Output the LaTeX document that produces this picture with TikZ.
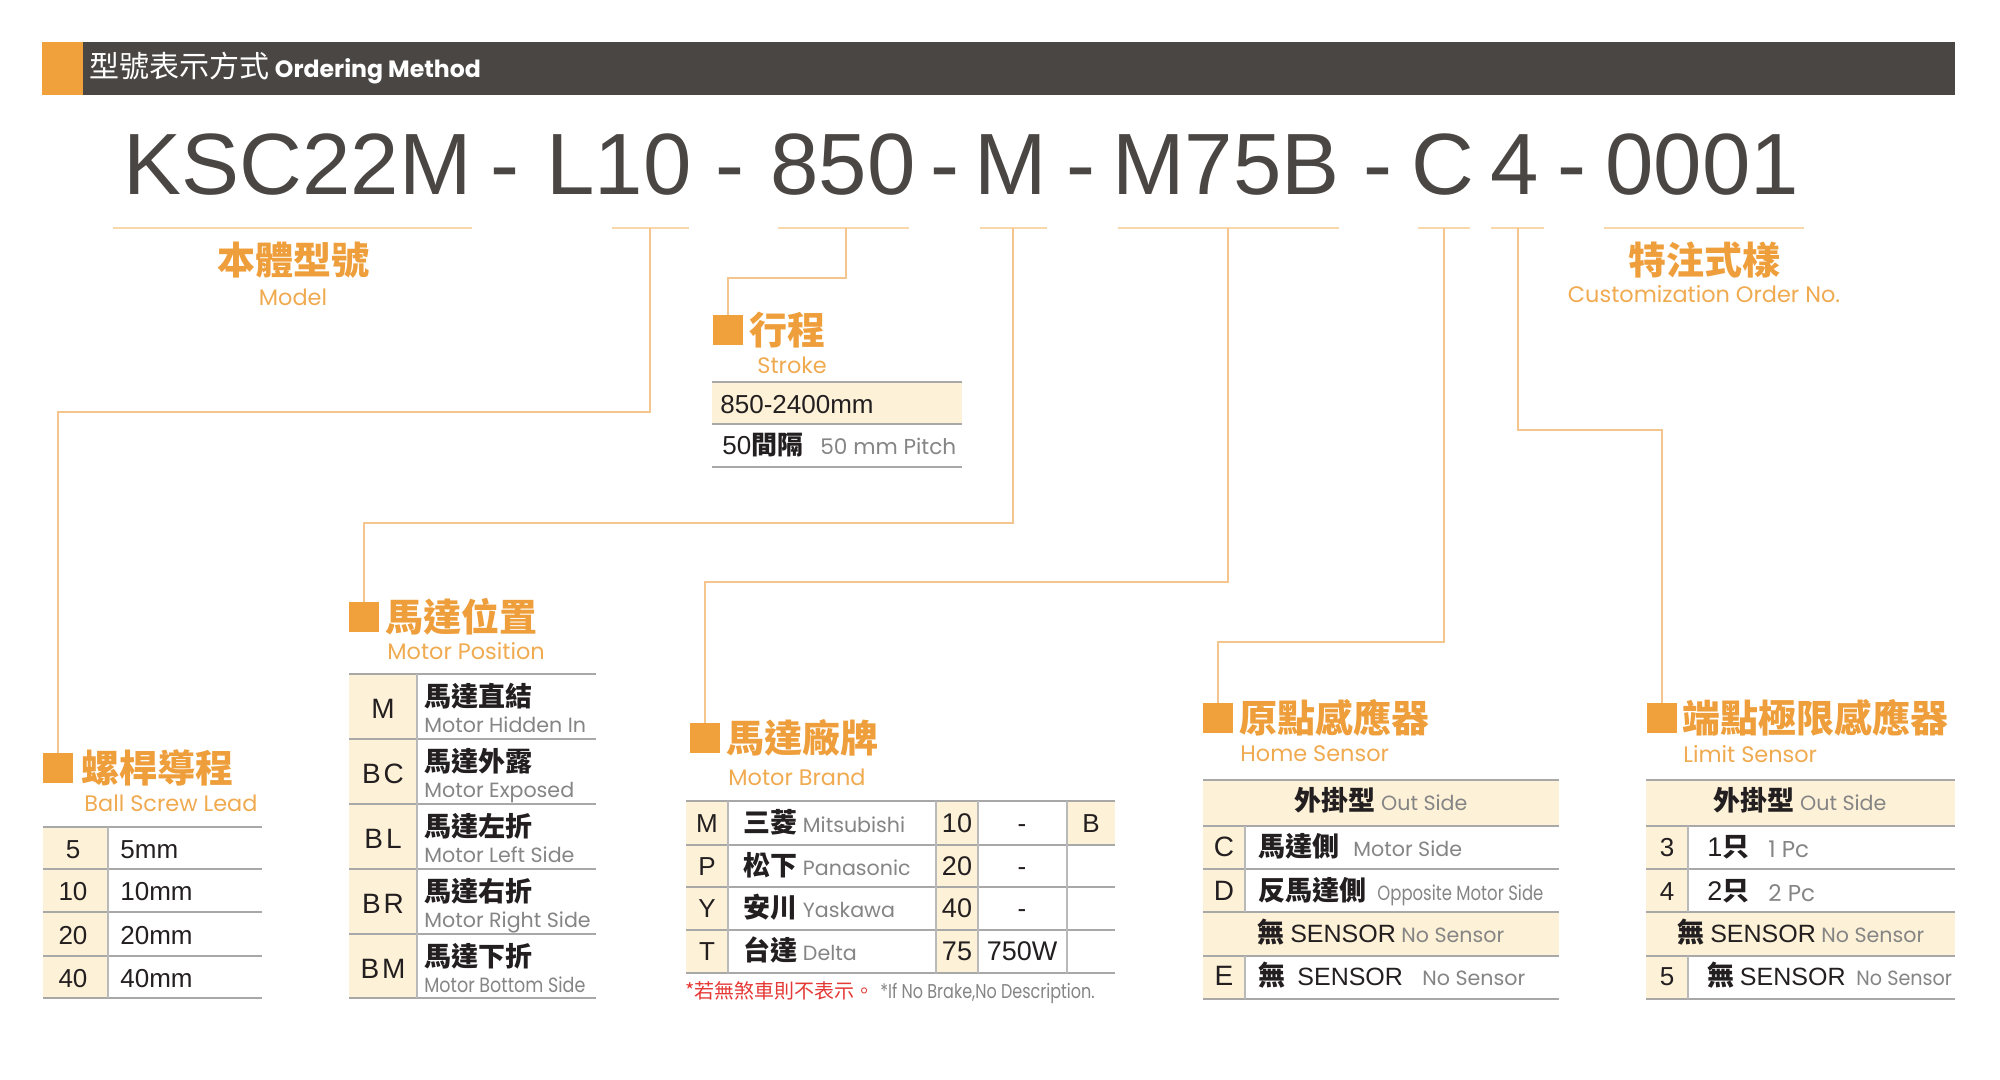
\documentclass[tikz,border=0pt]{standalone}
\usepackage{fontspec}
\setmainfont{Liberation Sans}
\newfontfamily\cjk{Noto Sans CJK TC}
\newfontfamily\pop{Poppins}
\usetikzlibrary{calc}
\definecolor{org}{HTML}{F0A13C}
\definecolor{orgtxt}{HTML}{EE9E3A}
\definecolor{orgsub}{HTML}{F0AA50}
\definecolor{connc}{HTML}{F4C68E}
\definecolor{ulc}{HTML}{F8D7A8}
\definecolor{cream}{HTML}{FDF1D7}
\definecolor{gridc}{HTML}{A8A8A8}
\definecolor{txt}{HTML}{231F20}
\definecolor{grytxt}{HTML}{858585}
\definecolor{hdr}{HTML}{4A4643}
\definecolor{redtxt}{HTML}{E53935}
\newcommand\fTitle{\cjk\bfseries\fontsize{19}{20}\selectfont}
\newcommand\fSub{\pop\fontsize{11.2}{12}\selectfont}
\newcommand\fCode{\fontsize{43.5}{45}\selectfont}
\newcommand\fKey{\fontsize{13}{14}\selectfont}
\newcommand\fBigKey{\fontsize{14}{15}\selectfont}
\newcommand\fCj{\cjk\bfseries\fontsize{13.5}{14}\selectfont}
\newcommand\fEn{\pop\fontsize{10.3}{11}\selectfont\color{grytxt}}
\newcommand\fAr{\fontsize{12.5}{13}\selectfont}
\begin{document}
\begin{tikzpicture}[x=0.5pt,y=-0.5pt,
  sq/.style={fill=org,minimum size=15pt,inner sep=0pt,outer sep=0pt},
  ttl/.style={anchor=west,inner sep=0pt,text=orgtxt,font=\fTitle},
  sub/.style={anchor=west,inner sep=0pt,text=orgsub,font=\fSub},
  conn/.style={draw=connc,line width=0.6pt},
  uline/.style={draw=ulc,line width=1pt},
  grid/.style={draw=gridc,line width=0.9pt},
  vdiv/.style={draw=gridc!80,line width=0.6pt},
  key/.style={anchor=base,inner sep=0pt,text=txt,font=\fKey},
  bkey/.style={anchor=base,inner sep=0pt,text=txt,font=\fBigKey},
  tx/.style={anchor=base west,inner sep=0pt,text=txt},
  en/.style={anchor=base west,inner sep=0pt,text=grytxt,font=\fEn},
  ctx/.style={anchor=base,inner sep=0pt,text=txt},
  code/.style={anchor=base west,inner sep=0pt,text=hdr,font=\fCode}]
\useasboundingbox (0,0) rectangle (2000,1080);
\fill[white] (0,0) rectangle (2000,1080);

% header
\fill[hdr] (83,42) rectangle (1955,95);
\fill[org] (42,42) rectangle (83,95);
\node[anchor=base west,inner sep=0pt,text=white] (title) at (89,78)
  {{\cjk\fontsize{15}{16}\selectfont 型號表示方式} {\pop\bfseries\fontsize{11.8}{12}\selectfont Ordering Method}};

% code
\node[code] (cK) at (123,195) {KSC22M};
\node[code] (cd1) at (490,195) {-};
\node[code] (cL) at (546,195) {L10};
\node[code] (cd2) at (715,195) {-};
\node[code] (cS) at (770,195) {850};
\node[code] (cd3) at (930,195) {-};
\node[code] (cM) at (974,195) {M};
\node[code] (cd4) at (1066,195) {-};
\node[code] (cB) at (1112,195) {M75B};
\node[code] (cd5) at (1363,195) {-};
\node[code] (cC) at (1411,195) {C};
\node[code] (c4) at (1490,195) {4};
\node[code] (cd6) at (1557,195) {-};
\node[code] (cN) at (1605,195) {0001};

% underlines
\draw[uline] (113,228) -- (472,228);
\draw[uline] (612,228) -- (689,228);
\draw[uline] (778,228) -- (909,228);
\draw[uline] (980,228) -- (1047,228);
\draw[uline] (1118,228) -- (1339,228);
\draw[uline] (1418,228) -- (1470,228);
\draw[uline] (1491,228) -- (1544,228);
\draw[uline] (1604,228) -- (1804,228);
\coordinate (uL) at (650,228);
\coordinate (uS) at (846,228);
\coordinate (uM) at (1013,228);
\coordinate (uB) at (1228,228);
\coordinate (uC) at (1444,228);
\coordinate (u4) at (1518,228);

% model / custom labels
\node[inner sep=0pt,text=orgtxt,font=\fTitle] (mdl) at (293,260) {本體型號};
\node[inner sep=0pt,text=orgsub,font=\fSub] (mdle) at (293,297) {Model};
\node[inner sep=0pt,text=orgtxt,font=\fTitle] (cus) at (1704,260) {特注式樣};
\node[inner sep=0pt,text=orgsub,font=\fSub] (cuse) at (1704,294) {Customization Order No.};

% section squares and titles
\node[sq] (sqLead) at (58,768) {};
\node[ttl] (tLead) at ($(sqLead.east)+(8,0)$) {螺桿導程};
\node[sub] (sLead) at (84,803) {Ball Screw Lead};

\node[sq] (sqStroke) at (728,330) {};
\node[ttl] (tStroke) at ($(sqStroke.east)+(6,0)$) {行程};
\node[sub] (sStroke) at (757,365) {Stroke};

\node[sq] (sqPos) at (364,617) {};
\node[ttl] (tPos) at ($(sqPos.east)+(6,0)$) {馬達位置};
\node[sub] (sPos) at (387,651) {Motor Position};

\node[sq] (sqBrand) at (705,738) {};
\node[ttl] (tBrand) at ($(sqBrand.east)+(6,0)$) {馬達廠牌};
\node[sub] (sBrand) at (728,777) {Motor Brand};

\node[sq] (sqHome) at (1218,718) {};
\node[ttl] (tHome) at ($(sqHome.east)+(6,0)$) {原點感應器};
\node[sub] (sHome) at (1240,754) {Home Sensor};

\node[sq] (sqLim) at (1662,718) {};
\node[ttl] (tLim) at ($(sqLim.east)+(5,0)$) {端點極限感應器};
\node[sub] (sLim) at (1683,754) {Limit Sensor};

% connectors
\draw[conn] (uL) -- ++(0,184) -| (sqLead.north);
\draw[conn] (uS) -- ++(0,50) -| (sqStroke.north);
\draw[conn] (uM) -- ++(0,295) -| (sqPos.north);
\draw[conn] (uB) -- ++(0,354) -| (sqBrand.north);
\draw[conn] (uC) -- ++(0,414) -| (sqHome.north);
\draw[conn] (u4) -- ++(0,202) -| (sqLim.north);

% stroke table
\fill[cream] (712,382) rectangle (962,424);
\foreach \y in {382,424,467} \draw[grid] (712,\y) -- (962,\y);
\node[tx,font=\fontsize{13}{14}\selectfont] (st1) at (720,413) {850-2400mm};
\node[tx] (st2) at (722,454) {{\fontsize{13}{14}\selectfont 50}{\fCj\fontsize{13}{14}\selectfont 間隔}};
\node[en,font=\pop\fontsize{10.8}{11}\selectfont] (st3) at (820,454) {50 mm Pitch};

% lead table
\fill[cream] (43,827) rectangle (108,998);
\foreach \y in {827,869,912,956,998} \draw[grid] (43,\y) -- (262,\y);
\draw[vdiv] (108,827) -- (108,998);
\node[key] (l1k) at (73,858) {5};
\node[key] (l2k) at (73,900) {10};
\node[key] (l3k) at (73,944) {20};
\node[key] (l4k) at (73,987) {40};
\node[tx,font=\fKey] (l1v) at (120,858) {5mm};
\node[tx,font=\fKey] (l2v) at (120,900) {10mm};
\node[tx,font=\fKey] (l3v) at (120,944) {20mm};
\node[tx,font=\fKey] (l4v) at (120,987) {40mm};

% motor position table
\fill[cream] (349,674) rectangle (417,998);
\foreach \y in {674,739,804,869,934,998} \draw[grid] (349,\y) -- (596,\y);
\draw[vdiv] (417,674) -- (417,998);
\node[bkey] (p1k) at (383,718) {M};
\node[bkey] (p2k) at (383,783) {B\kern1.5pt C};
\node[bkey] (p3k) at (383,848) {B\kern1.5pt L};
\node[bkey] (p4k) at (383,913) {B\kern1.5pt R};
\node[bkey] (p5k) at (383,978) {B\kern1.5pt M};
\node[tx,font=\fCj] (p1c) at (424,706) {馬達直結};
\node[tx,font=\fCj] (p2c) at (424,771) {馬達外露};
\node[tx,font=\fCj] (p3c) at (424,836) {馬達左折};
\node[tx,font=\fCj] (p4c) at (424,901) {馬達右折};
\node[tx,font=\fCj] (p5c) at (424,966) {馬達下折};
\node[en] (p1e) at (424,732) {Motor Hidden In};
\node[en] (p2e) at (424,797) {Motor Exposed};
\node[en] (p3e) at (424,862) {Motor Left Side};
\node[en] (p4e) at (424,927) {Motor Right Side};
\node[en] (p5e) at (424,992) {\scalebox{0.85}[1]{Motor Bottom Side}};

% motor brand table
\fill[cream] (686,801) rectangle (728,973);
\fill[cream] (936,801) rectangle (978,973);
\fill[cream] (1067,801) rectangle (1115,845);
\foreach \y in {801,845,887,930,973} \draw[grid] (686,\y) -- (1115,\y);
\foreach \x in {728,936,978,1067} \draw[vdiv] (\x,801) -- (\x,973);
\node[key] (b1k) at (707,832) {M};
\node[key] (b2k) at (707,875) {P};
\node[key] (b3k) at (707,917) {Y};
\node[key] (b4k) at (707,960) {T};
\node[tx] (b1n) at (743,832) {{\fCj 三菱} {\fEn Mitsubishi}};
\node[tx] (b2n) at (743,875) {{\fCj 松下} {\fEn Panasonic}};
\node[tx] (b3n) at (743,917) {{\fCj 安川} {\fEn Yaskawa}};
\node[tx] (b4n) at (743,960) {{\fCj 台達} {\fEn Delta}};
\node[key,font=\fontsize{13.5}{14}\selectfont] (b1c) at (957,832) {10};
\node[key,font=\fontsize{13.5}{14}\selectfont] (b2c) at (957,875) {20};
\node[key,font=\fontsize{13.5}{14}\selectfont] (b3c) at (957,917) {40};
\node[key,font=\fontsize{13.5}{14}\selectfont] (b4c) at (957,960) {75};
\node[key] (b1p) at (1022,832) {-};
\node[key] (b2p) at (1022,875) {-};
\node[key] (b3p) at (1022,917) {-};
\node[key,font=\fontsize{13.5}{14}\selectfont] (b4p) at (1022,960) {750W};
\node[key] (b1b) at (1091,832) {B};
\node[tx,text=redtxt,font=\cjk\fontsize{10}{11}\selectfont] (nr) at (685,998) {*若無煞車則不表示。};
\node[en,font=\pop\fontsize{10}{11}\selectfont] (ne) at (880,998) {\scalebox{0.8}[1]{*If No Brake,No Description.}};

% home sensor table
\fill[cream] (1203,780) rectangle (1559,826);
\fill[cream] (1203,826) rectangle (1245,912);
\fill[cream] (1203,912) rectangle (1559,956);
\fill[cream] (1203,956) rectangle (1245,999);
\foreach \y in {780,826,869,912,956,999} \draw[grid] (1203,\y) -- (1559,\y);
\draw[vdiv] (1245,826) -- (1245,912);
\draw[vdiv] (1245,956) -- (1245,999);
\node[ctx] (h0) at (1381,810) {{\fCj 外掛型} {\fEn Out Side}};
\node[bkey] (h1k) at (1224,856) {C};
\node[bkey] (h2k) at (1224,900) {D};
\node[bkey] (h4k) at (1224,985) {E};
\node[tx,font=\fCj] (h1c) at (1258,856) {馬達側};
\node[en] (h1e) at (1353,856) {Motor Side};
\node[tx,font=\fCj] (h2c) at (1258,900) {反馬達側};
\node[en] (h2e) at (1377,900) {\scalebox{0.8}[1]{Opposite Motor Side}};
\node[ctx] (h3) at (1381,942) {{\fCj 無} {\fAr SENSOR} {\fEn No Sensor}};
\node[tx,font=\fCj] (h4c) at (1258,985) {無};
\node[tx,font=\fAr] (h4s) at (1297,985) {SENSOR};
\node[en] (h4e) at (1422,985) {No Sensor};

% limit sensor table
\fill[cream] (1646,780) rectangle (1955,826);
\fill[cream] (1646,826) rectangle (1688,912);
\fill[cream] (1646,912) rectangle (1955,956);
\fill[cream] (1646,956) rectangle (1688,999);
\foreach \y in {780,826,869,912,956,999} \draw[grid] (1646,\y) -- (1955,\y);
\draw[vdiv] (1688,826) -- (1688,912);
\draw[vdiv] (1688,956) -- (1688,999);
\node[ctx] (m0) at (1800,810) {{\fCj 外掛型} {\fEn Out Side}};
\node[key] (m1k) at (1667,856) {3};
\node[key] (m2k) at (1667,900) {4};
\node[key] (m4k) at (1667,985) {5};
\node[tx] (m1c) at (1707,856) {{\fontsize{13.5}{14}\selectfont 1}{\fCj 只}};
\node[en,font=\pop\fontsize{11.5}{12}\selectfont] (m1e) at (1768,857) {1 Pc};
\node[tx] (m2c) at (1707,900) {{\fontsize{13.5}{14}\selectfont 2}{\fCj 只}};
\node[en,font=\pop\fontsize{11.5}{12}\selectfont] (m2e) at (1768,901) {2 Pc};
\node[ctx] (m3) at (1801,942) {{\fCj 無} {\fAr SENSOR} {\fEn No Sensor}};
\node[tx] (m4c) at (1707,985) {{\fCj 無} {\fAr SENSOR}};
\node[en] (m4e) at (1856,985) {\scalebox{0.93}[1]{No Sensor}};
\end{tikzpicture}
\end{document}
